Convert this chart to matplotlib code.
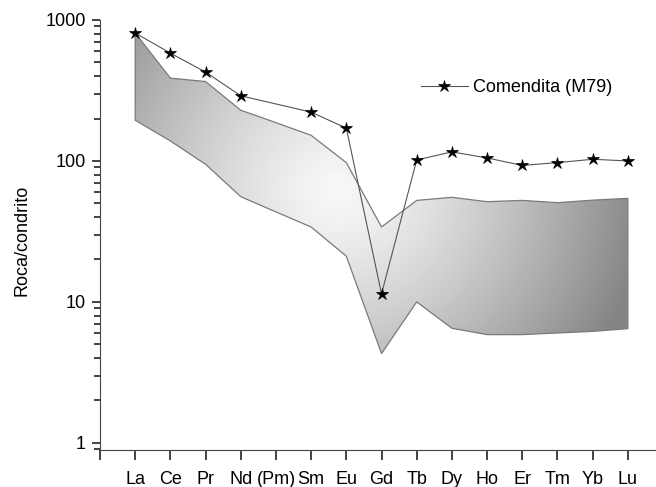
import numpy as np
import matplotlib.pyplot as plt
from matplotlib.patches import Polygon

plt.rcParams['font.family'] = ['Liberation Sans Narrow', 'Liberation Sans', 'DejaVu Sans']

elements = ["La", "Ce", "Pr", "Nd", "(Pm)", "Sm", "Eu", "Gd", "Tb", "Dy",
            "Ho", "Er", "Tm", "Yb", "Lu"]

# Comendita (M79), no value for Pm
comendita = [809, 582, 427, 290, None, 222, 171, 11.4, 101.6, 116,
             105, 93, 97.3, 102.8, 100]

# envelope of the shaded field
field_upper = [809, 387, 366, 229, 187, 152, 97.3, 34, 52.5, 55.2,
               51.4, 52.5, 50.6, 52.7, 54.3]
field_lower = [194.6, 138.6, 94.7, 55.8, 43.5, 34, 21.1, 4.3, 10, 6.5,
               5.86, 5.86, 6.02, 6.18, 6.46]

x = np.arange(1, len(elements) + 1)

fig = plt.figure(figsize=(6.56, 4.87), dpi=100)
W, H = 656, 487
ax_l, ax_r, ax_t, ax_b = 100, 656, 20, 450
ax = fig.add_axes([ax_l / W, 1 - ax_b / H, (ax_r - ax_l) / W, (ax_b - ax_t) / H])

# shaded field: radial grey gradient clipped to the envelope polygon
verts = list(zip(x, field_upper)) + list(zip(x[::-1], field_lower[::-1]))
poly = Polygon(verts, closed=True, facecolor='none', edgecolor='#7a7a7a',
               lw=0.9, transform=ax.transData, zorder=3)
ax.add_patch(poly)

nx, ny = ax_r - ax_l, ax_b - ax_t
px = ax_l + np.arange(nx) + 0.5
py = ax_b - np.arange(ny) - 0.5
PX, PY = np.meshgrid(px, py)
cx, cy = 338, 190
d = np.hypot(PX - cx, (PY - cy) * 1.05)
grad = np.clip(0.97 - 0.40 * (d / 280) ** 1.3, 0.52, 1)
im = ax.imshow(grad, extent=[0, 1, 0, 1], transform=ax.transAxes,
               cmap='gray', vmin=0, vmax=1, origin='lower', aspect='auto',
               interpolation='bilinear', zorder=2)
im.set_clip_path(poly)

# sample line
xs = [xi for xi, v in zip(x, comendita) if v is not None]
ys = [v for v in comendita if v is not None]
ax.plot(xs, ys, color='#555555', lw=0.8, marker='*', markersize=9,
        markerfacecolor='black', markeredgecolor='black', markeredgewidth=0.5,
        label='Comendita (M79)', zorder=4)

ax.set_yscale('log')
ax.set_ylim(0.89, 1000)
ax.set_xlim(0, 15.8)
ax.set_yticks([1, 10, 100, 1000])
ax.set_yticklabels(['1', '10', '100', '1000'])
ax.set_xticks(np.arange(0, len(elements) + 1))
ax.set_xticklabels([''] + elements)

ax.spines['top'].set_visible(False)
ax.spines['right'].set_visible(False)
for s in ['left', 'bottom']:
    ax.spines[s].set_color('#444444')
    ax.spines[s].set_linewidth(0.8)
ax.tick_params(axis='both', which='major', direction='out', length=6,
               width=1.2, color='#222222', labelsize=13, pad=4)
ax.tick_params(axis='y', which='minor', direction='out', length=4,
               width=1.2, color='#222222')
ax.tick_params(axis='x', which='major', length=7, pad=8)

ax.set_ylabel('Roca/condrito', fontsize=13)
ax.yaxis.set_label_coords((31 - ax_l) / nx, 1 - (240 - ax_t) / ny)

ax.legend(loc='center left', bbox_to_anchor=(421 / W, 1 - 88 / H),
          bbox_transform=fig.transFigure, frameon=False, fontsize=13,
          handlelength=2.6, handletextpad=0.3, borderpad=0, borderaxespad=0)

fig.savefig('out.png', dpi=100)
